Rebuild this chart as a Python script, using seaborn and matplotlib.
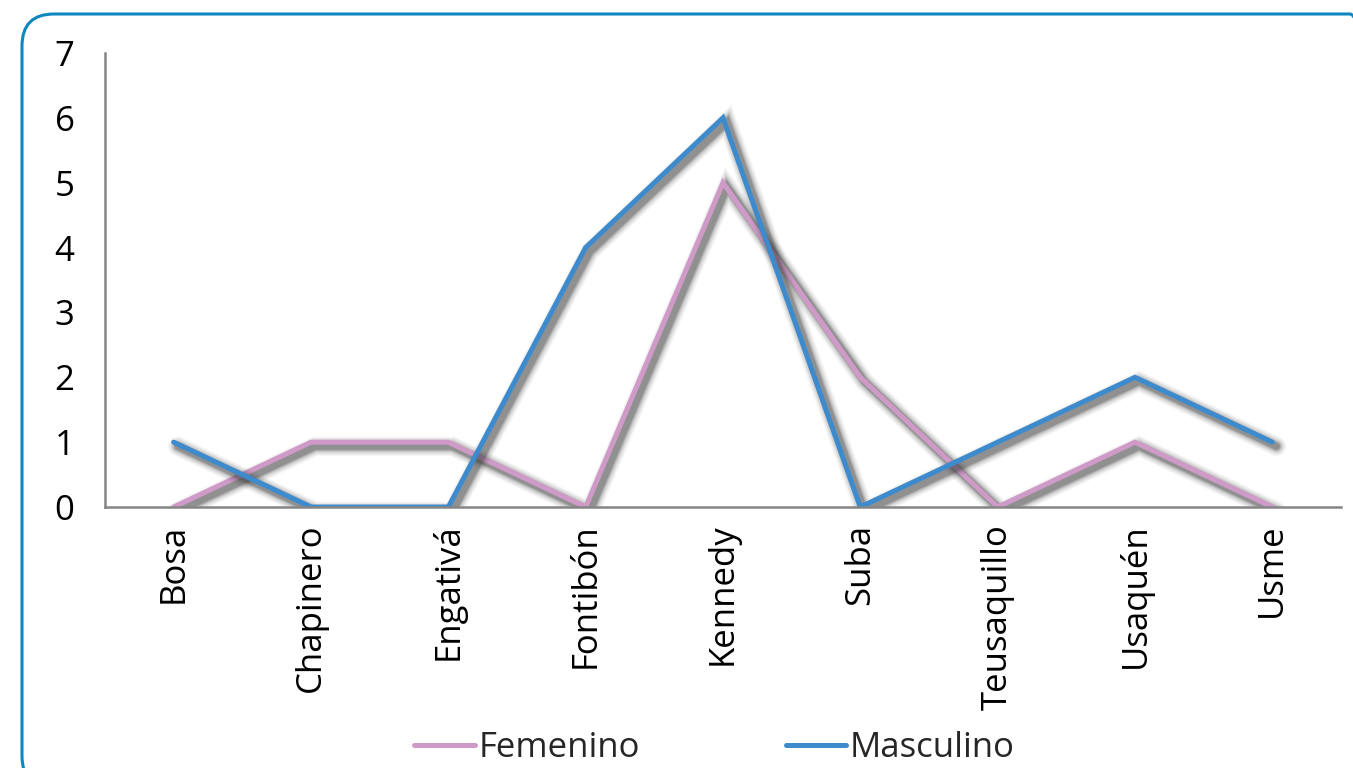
import pandas as pd
import matplotlib
matplotlib.use("Agg")
import matplotlib.pyplot as plt
import matplotlib.patheffects as pe
from matplotlib.lines import Line2D
from matplotlib.patches import FancyBboxPatch
import seaborn as sns

# Data
localidades = ["Bosa", "Chapinero", "Engativá", "Fontibón", "Kennedy",
               "Suba", "Teusaquillo", "Usaquén", "Usme"]
femenino = [0, 1, 1, 0, 5, 2, 0, 1, 0]
masculino = [1, 0, 0, 4, 6, 0, 1, 2, 1]

series_names = ["Femenino", "Masculino"]
colors = {"Femenino": "#D09AC8", "Masculino": "#3D8BCD"}

df = pd.DataFrame({
    "Localidad": localidades * 2,
    "Valor": femenino + masculino,
    "Sexo": ["Femenino"] * len(localidades) + ["Masculino"] * len(localidades),
})

sns.set_style("white")
plt.rcParams["font.family"] = ["Open Sans", "DejaVu Sans"]

fig = plt.figure(figsize=(13.53, 7.68), dpi=100)
ax = fig.add_axes([0.0776, 0.3398, 0.9135, 0.5912])

sns.lineplot(data=df, x="Localidad", y="Valor", hue="Sexo", palette=colors,
             sort=False, linewidth=3.6, legend=False, ax=ax)

# blurred drop shadow under each line
shadow = []
for lw, a in [(14, 0.05), (12, 0.07), (10, 0.09), (8, 0.13), (6.5, 0.18), (5, 0.25)]:
    shadow.append(pe.SimpleLineShadow(offset=(3, -3), shadow_color="#404040",
                                      alpha=a, linewidth=lw))
for line in ax.lines:
    line.set_path_effects(shadow + [pe.Normal()])
    line.set_solid_joinstyle("miter")
    line.set_solid_capstyle("round")

ax.set_xlim(-0.5, len(localidades) - 0.5)
ax.set_ylim(0, 7)
ax.set_yticks(range(0, 8))
ax.set_xlabel("")
ax.set_ylabel("")
ax.tick_params(axis="both", length=0, labelsize=25, colors="black")
ax.tick_params(axis="y", pad=22)
ax.tick_params(axis="x", pad=12)
plt.setp(ax.get_xticklabels(), rotation=90)

for side in ["top", "right"]:
    ax.spines[side].set_visible(False)
for side in ["left", "bottom"]:
    ax.spines[side].set_color("#858585")
    ax.spines[side].set_linewidth(1.8)

handles = [Line2D([0], [0], color=colors[s], linewidth=3.6, solid_capstyle="round")
           for s in series_names]
fig.legend(handles, series_names, loc="center", bbox_to_anchor=(0.528, 0.026),
           ncol=2, frameon=False, fontsize=25, handlelength=1.75,
           handletextpad=0.1, columnspacing=4.2)

# rounded frame around the chart
frame = FancyBboxPatch((0.22, -0.2), 13.6, 7.74,
                       boxstyle="round,pad=0,rounding_size=0.32",
                       transform=fig.dpi_scale_trans, fill=False,
                       edgecolor="#0E86BE", linewidth=2.2, clip_on=False)
fig.patches.append(frame)

fig.savefig("out.png", dpi=100)
